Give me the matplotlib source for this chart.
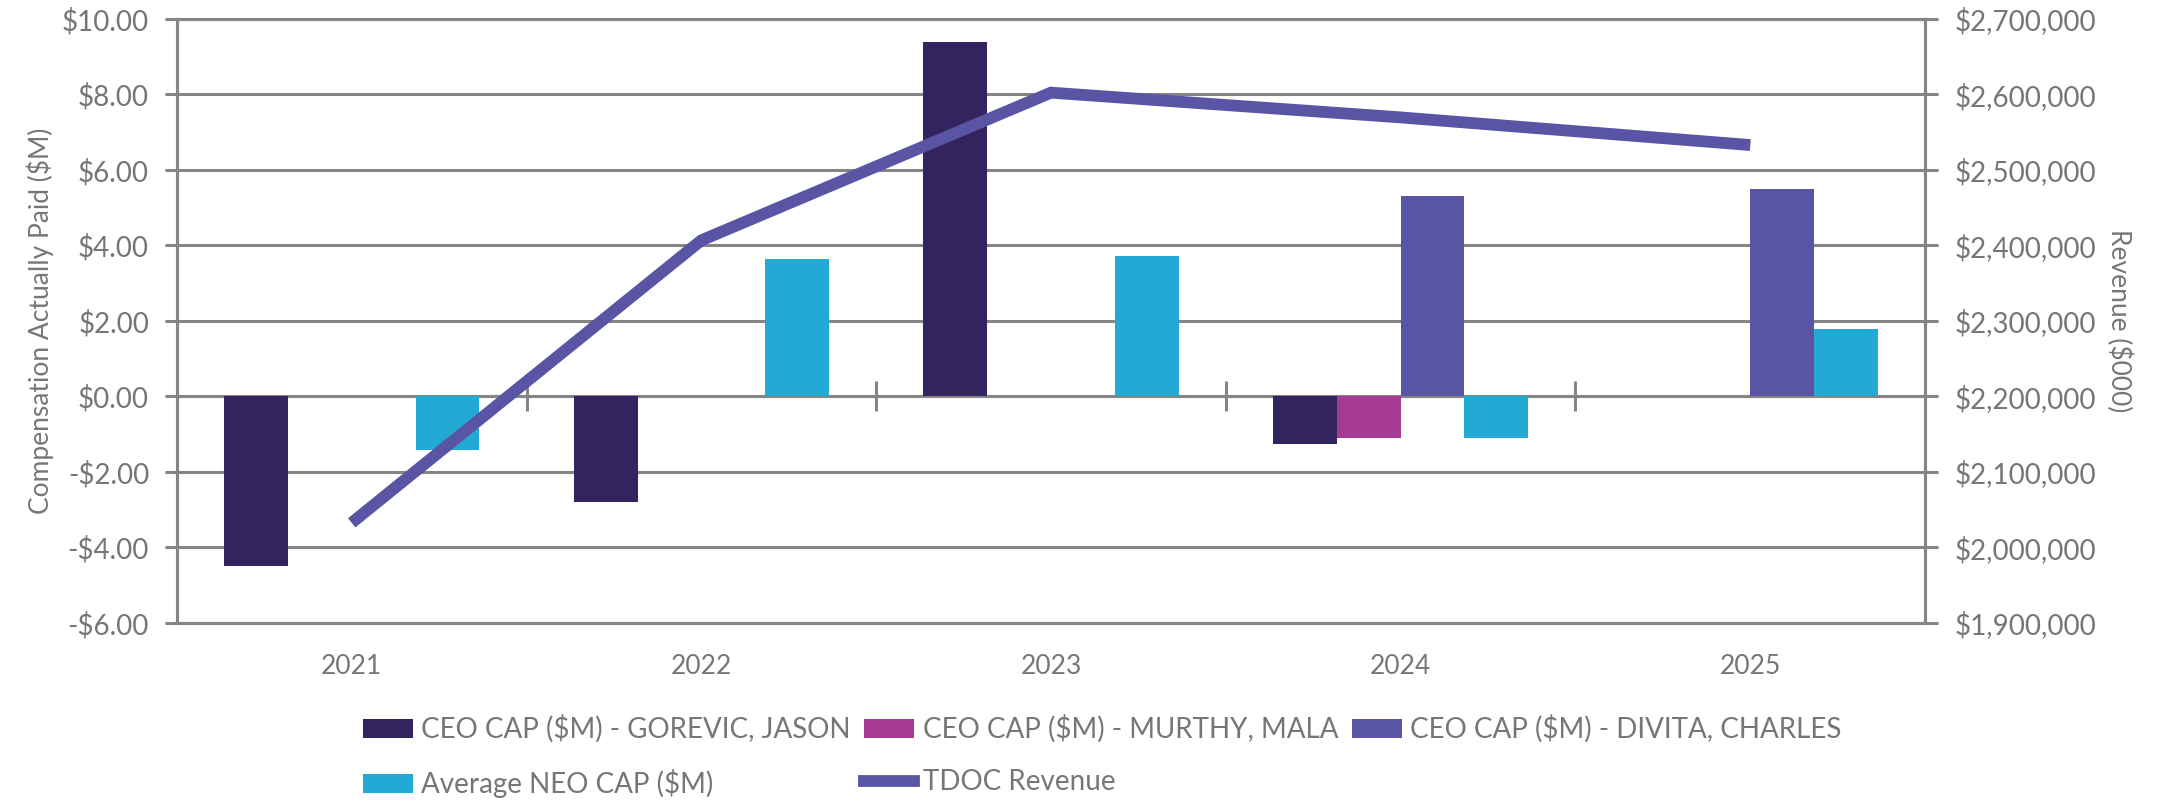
import numpy as np
import matplotlib
matplotlib.use("Agg")
import matplotlib.pyplot as plt
from matplotlib.lines import Line2D
from matplotlib.patches import Patch
from matplotlib.ticker import FuncFormatter, MultipleLocator

years = ["2021", "2022", "2023", "2024", "2025"]
gorevic = [-4.50, -2.80, 9.38, -1.25, np.nan]
murthy = [np.nan, np.nan, np.nan, -1.10, np.nan]
divita = [np.nan, np.nan, np.nan, 5.30, 5.49]
avg_neo = [-1.41, 3.63, 3.73, -1.10, 1.80]
revenue = [2032707, 2406840, 2602419, 2569628, 2533000]

labels = ["CEO CAP ($M) - GOREVIC, JASON", "CEO CAP ($M) - MURTHY, MALA",
          "CEO CAP ($M) - DIVITA, CHARLES", "Average NEO CAP ($M)", "TDOC Revenue"]
colors = ["#332460", "#A63A95", "#5A54A4", "#22AAD4"]
line_color = "#5A54A4"
grid_color = "#858585"
text_color = "#767676"

plt.rcParams['font.family'] = ['Lato', 'DejaVu Sans']

fig = plt.figure(figsize=(21.57, 8.07), dpi=100)
ax = fig.add_axes([0.082, 0.228, 0.8105, 0.7485])
ax2 = ax.twinx()

x = np.arange(len(years))
series = [gorevic, murthy, divita, avg_neo]
w = 0.73 / 4
for k, (vals, c) in enumerate(zip(series, colors)):
    ax.bar(x + (k - 1.5) * w, vals, width=w, color=c, zorder=3)

ax.set_xlim(-0.5, len(years) - 0.5)
ax.set_ylim(-6, 10)
ax.yaxis.set_major_locator(MultipleLocator(2))
ax.yaxis.set_major_formatter(FuncFormatter(lambda v, p: f"-${abs(v):.2f}" if v < 0 else f"${v:.2f}"))
ax.grid(axis='y', color=grid_color, linewidth=2.2, zorder=0)
ax.set_axisbelow(True)
ax.set_xticks(x)
ax.set_xticklabels(years)
ax.tick_params(axis='x', length=0, pad=22, labelsize=19, labelcolor=text_color)
ax.tick_params(axis='y', length=9, width=2.2, color=grid_color, pad=11, labelsize=20, labelcolor=text_color)

# zero line with category-boundary ticks
ax.axhline(0, color=grid_color, linewidth=2.2, zorder=2)
bounds = x[:-1] + 0.5
ax.plot(bounds, np.zeros_like(bounds, dtype=float), linestyle='none', marker='|',
        markersize=22, markeredgewidth=2.2, color=grid_color, zorder=2)

for s in ['top', 'bottom', 'left', 'right']:
    ax.spines[s].set_color(grid_color)
    ax.spines[s].set_linewidth(2.2)
    ax2.spines[s].set_color(grid_color)
    ax2.spines[s].set_linewidth(2.2)

ax2.plot(x, revenue, color=line_color, linewidth=8.5, solid_capstyle='butt', solid_joinstyle='miter', zorder=4)
ax2.set_ylim(1900000, 2700000)
ax2.yaxis.set_major_locator(MultipleLocator(100000))
ax2.yaxis.set_major_formatter(FuncFormatter(lambda v, p: f"${v:,.0f}"))
ax2.tick_params(axis='y', length=9, width=2.2, color=grid_color, pad=12, labelsize=20, labelcolor=text_color)

ax.set_ylabel("Compensation Actually Paid ($M)", fontsize=19, color=text_color, labelpad=6)
ax2.set_ylabel("Revenue ($000)", fontsize=19, color=text_color, rotation=-90, labelpad=26)

handles = [Patch(facecolor=c) for c in colors] + [Line2D([0], [0], color=line_color, linewidth=8.5)]
order = [0, 3, 1, 4, 2]
leg = fig.legend([handles[i] for i in order], [labels[i] for i in order], ncol=3,
                 loc='upper left', bbox_to_anchor=(0.163, 0.128), frameon=False,
                 fontsize=20, labelcolor=text_color, handlelength=1.8, handleheight=0.7,
                 handletextpad=0.3, columnspacing=0.5, labelspacing=0.95, borderaxespad=0)

fig.savefig("out.png", dpi=100)
